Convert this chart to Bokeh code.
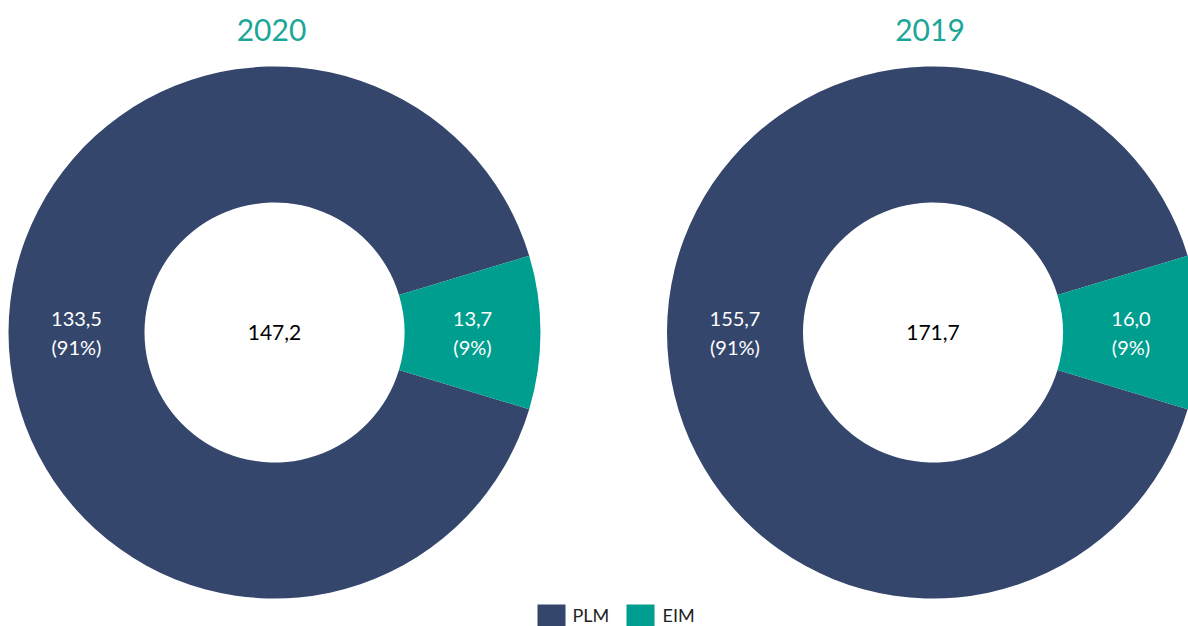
import math
from bokeh.plotting import figure
from bokeh.models import Range1d, ColumnDataSource
from bokeh.core.properties import value
from bokeh.embed import file_html
from bokeh.resources import INLINE

years = ["2020", "2019"]
categories = ["PLM", "EIM"]
plm = [133.5, 155.7]
eim = [13.7, 16.0]
totals = ["147,2", "171,7"]
plm_pct = ["91%", "91%"]
eim_pct = ["9%", "9%"]

NAVY = "#34466c"
TEAL = "#009e8e"
TITLE = "#1ba698"
FONT = "Lato"

W, H = 1188, 626
p = figure(width=W, height=H, x_range=Range1d(0, W), y_range=Range1d(0, H),
           output_backend="svg", toolbar_location=None, min_border=0,
           background_fill_color="white", border_fill_color="white")
p.axis.visible = False
p.grid.visible = False
p.outline_line_color = None

centers_x = [274, 932.5]
cy = H - 332
r_in, r_out = 130, 266
r_mid = (r_in + r_out) / 2

def fmt(v):
    return f"{v:.1f}".replace(".", ",")

for i, yr in enumerate(years):
    cx = centers_x[i]
    tot = plm[i] + eim[i]
    half = math.pi * eim[i] / tot
    src = ColumnDataSource(dict(
        x=[cx, cx], y=[cy, cy],
        start=[half, -half], end=[2 * math.pi - half, half],
        color=[NAVY, TEAL]))
    p.annular_wedge(x="x", y="y", inner_radius=r_in, outer_radius=r_out,
                    start_angle="start", end_angle="end", color="color",
                    line_color=None, source=src)
    lab = ColumnDataSource(dict(
        x=[cx - r_mid, cx + r_mid],
        y=[cy, cy],
        t=[f"{fmt(plm[i])}\n({plm_pct[i]})", f"{fmt(eim[i])}\n({eim_pct[i]})"]))
    p.text(x="x", y="y", text="t", source=lab, text_color="white",
           text_font=value(FONT), text_font_size="20px", text_align="center",
           text_baseline="middle", text_line_height=1.2)
    p.text(x=[cx], y=[cy], text=[totals[i]], text_color="black",
           text_font=value(FONT), text_font_size="21px", text_align="center",
           text_baseline="middle")
    p.text(x=[cx - 3], y=[H - 29], text=[yr], text_color=TITLE,
           text_font=value(FONT), text_font_size="30px", text_align="center",
           text_baseline="middle")

# legend
leg_y = H - 614
leg_sq_x = [551, 640]
leg_tx_x = [572, 662]
leg_colors = [NAVY, TEAL]
p.rect(x=leg_sq_x, y=[H - 616, H - 616], width=28, height=24, color=leg_colors, line_color=None)
p.text(x=leg_tx_x, y=[leg_y, leg_y], text=categories, text_color="#222222",
       text_font=value(FONT), text_font_size="18px", text_align="left",
       text_baseline="middle")

open("out.html", "w").write(file_html(p, INLINE))
